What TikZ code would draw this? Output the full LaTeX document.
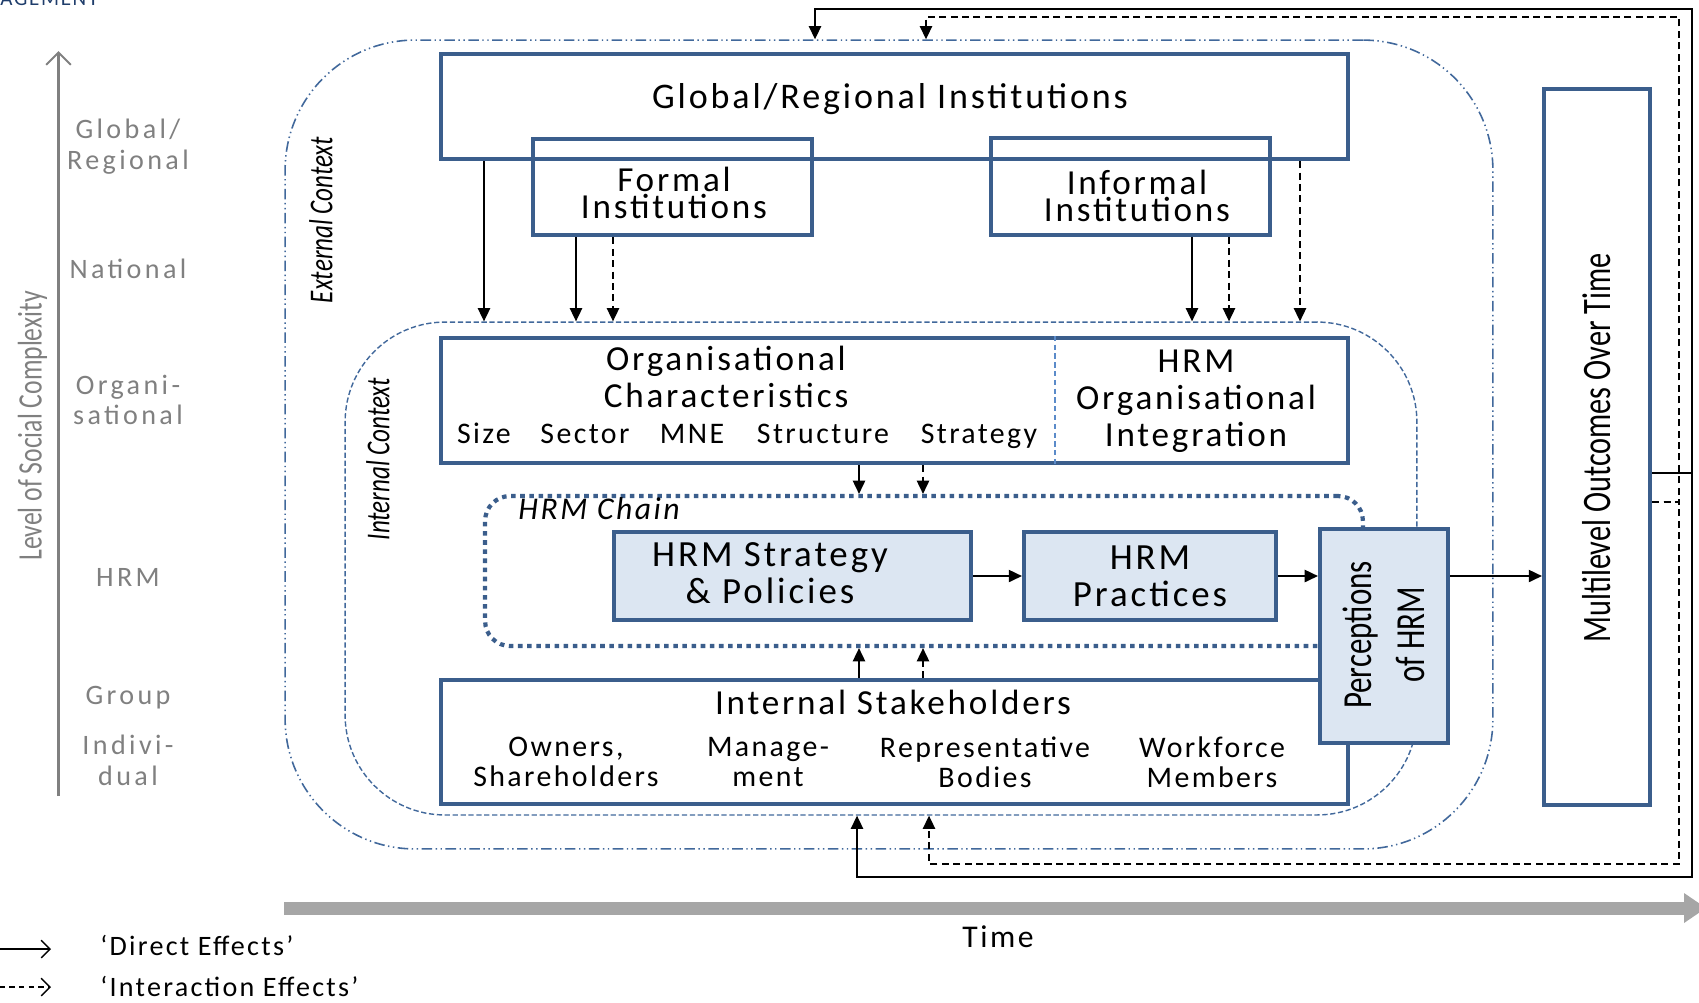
\documentclass[tikz,border=0pt]{standalone}
\usepackage{fontspec}
\setmainfont{Carlito}
\newfontfamily\widefont[LetterSpace=8]{Carlito}
\newfontfamily\levelfont[LetterSpace=12]{Carlito}
\newfontfamily\narrowfont[FakeStretch=0.75]{Carlito}
\usetikzlibrary{arrows.meta}
\definecolor{boxblue}{HTML}{3B5E8C}
\definecolor{fillblue}{HTML}{DCE6F2}
\definecolor{ctxblue}{HTML}{41689B}
\definecolor{divblue}{HTML}{5B8BC9}
\definecolor{levelgrey}{HTML}{808080}
\definecolor{timegrey}{HTML}{A6A6A6}
\definecolor{titleblue}{HTML}{1F3D6B}

\begin{document}
\begin{tikzpicture}[x=0.02cm,y=-0.02cm,
	box/.style={draw=boxblue,line width=2.4pt,inner sep=0pt},
	hrmbox/.style={box,fill=fillblue},
	ctx/.style={draw=ctxblue,inner sep=0pt},
	ctxlbl/.style={rotate=90,inner sep=0pt,font=\narrowfont\itshape\fontsize{19}{20}\selectfont},
	lbl/.style={align=center,inner sep=0pt,font=\widefont\fontsize{20}{21}\selectfont},
	tightlbl/.style={align=center,inner sep=0pt,font=\widefont\fontsize{20}{15.5}\selectfont},
	sublbl/.style={align=center,inner sep=0pt,font=\widefont\fontsize{17}{17}\selectfont},
	lvl/.style={align=center,inner sep=0pt,text=levelgrey,font=\levelfont\fontsize{16}{17.5}\selectfont},
	eff/.style={line width=0.8pt,-{Triangle[length=7.5pt,width=7pt]}},
	inter/.style={eff,dash pattern=on 4pt off 2.5pt},
	legarrow/.style={line width=0.8pt,-{Straight Barb[length=5pt,width=10pt]}}]
	\useasboundingbox (0,0) rectangle (1699,1002);
	\node[anchor=base west,inner sep=0pt,text=titleblue,font=\widefont\fontsize{12}{14}\selectfont] (hdr) at (0,5) {AGEMENT};

	\coordinate (axbot) at (58.5,796);
	\coordinate (axtop) at (58.5,51);
	\draw[levelgrey,line width=1.2pt,-{Straight Barb[length=7pt,width=14pt]}] (axbot) -- (axtop);
	\node[rotate=90,text=levelgrey,inner sep=0pt,font=\narrowfont\fontsize{19.5}{20}\selectfont] (axlbl) at (32.5,426) {Level of Social Complexity};
	\node[lvl] (lglob) at (128,147) {Global/\\Regional};
	\node[lvl,anchor=base] (lnat) at (128,278) {National};
	\node[lvl] (lorg) at (128,400) {Organi-\\sational};
	\node[lvl,anchor=base] (lhrm) at (128,586) {HRM};
	\node[lvl,anchor=base] (lgrp) at (128,704) {Group};
	\node[lvl] (lind) at (128,760) {Indivi-\\dual};

	\node[ctx,line width=0.9pt,dash pattern=on 6pt off 2pt on 0.8pt off 2pt on 0.8pt off 2pt,rounded corners=2.6cm,minimum width=24.16cm,minimum height=16.18cm] (extctx) at (889,444.5) {};
	\node[ctx,line width=0.8pt,dash pattern=on 3pt off 1.5pt,rounded corners=2cm,minimum width=21.44cm,minimum height=9.86cm] (intctx) at (881,568.5) {};
	\node[ctxlbl] (extlbl) at (321,220) {External Context};
	\node[ctxlbl] (intlbl) at (378,459) {Internal Context};

	\node[box,minimum width=18.14cm,minimum height=2.1cm] (glob) at (894.5,106.5) {};
	\node[box,minimum width=5.58cm,minimum height=1.93cm] (formal) at (672.5,187) {};
	\node[box,minimum width=5.58cm,minimum height=1.93cm] (informal) at (1130.5,186.5) {};
	\node[lbl,anchor=base,font=\widefont\fontsize{20.5}{21}\selectfont] (globtxt) at (890,108) {Global/Regional Institutions};
	\node[tightlbl] (formaltxt) at (674,193) {Formal\\Institutions};
	\node[tightlbl] (informaltxt) at (1137,196) {Informal\\Institutions};

	\node[box,minimum width=18.14cm,minimum height=2.5cm] (orgc) at (894.5,400.5) {};
	\coordinate (dv) at (1055,0);
	\draw[divblue,line width=1pt,dash pattern=on 3pt off 2pt] (orgc.north -| dv) -- (orgc.south -| dv);
	\node[lbl] (orgtxt) at (726,377) {Organisational\\Characteristics};
	\node[sublbl,anchor=base] (osize) at (484,443) {Size};
	\node[sublbl,anchor=base] (osector) at (585,443) {Sector};
	\node[sublbl,anchor=base] (omne) at (692,443) {MNE};
	\node[sublbl,anchor=base] (ostruct) at (823,443) {Structure};
	\node[sublbl,anchor=base] (ostrat) at (979,443) {Strategy};
	\node[lbl] (hrmorg) at (1196,401) {HRM\\Organisational\\Integration};

	\node[draw=boxblue,line width=2.4pt,dash pattern=on 2.6pt off 2.6pt,rounded corners=0.5cm,minimum width=17.56cm,minimum height=3cm,inner sep=0pt] (chain) at (924,571) {};
	\node[anchor=base west,inner sep=0pt,font=\widefont\itshape\fontsize{18}{20}\selectfont] (chainlbl) at (518,519) {HRM Chain};
	\node[hrmbox,minimum width=7.14cm,minimum height=1.76cm] (strat) at (792.5,576) {};
	\node[lbl,font=\widefont\fontsize{21}{21}\selectfont] (strattxt) at (770,573) {HRM Strategy\\\& Policies};
	\node[hrmbox,minimum width=5.04cm,minimum height=1.76cm,align=center,font=\widefont\fontsize{21}{21}\selectfont] (pract) at (1150,576) {HRM\\Practices};

	\node[box,minimum width=18.14cm,minimum height=2.48cm] (stake) at (894.5,742) {};
	\node[lbl,anchor=base] (staketxt) at (893,714) {Internal Stakeholders};
	\node[sublbl] (sown) at (566,762) {Owners,\\Shareholders};
	\node[sublbl] (smgmt) at (768,762) {Manage-\\ment};
	\node[sublbl] (srep) at (985,762) {Representative\\Bodies};
	\node[sublbl] (swork) at (1212,762) {Workforce\\Members};

	\node[hrmbox,minimum width=2.56cm,minimum height=4.28cm] (percep) at (1384,636) {};
	\node[rotate=90,align=center,inner sep=0pt,font=\narrowfont\fontsize{23.5}{30}\selectfont] (perceptxt) at (1384,635) {Perceptions\\of HRM};
	\node[box,minimum width=2.12cm,minimum height=14.32cm] (outc) at (1597,447) {};
	\node[rotate=90,inner sep=0pt,font=\narrowfont\fontsize{23}{24}\selectfont] (outctxt) at (1597,448) {Multilevel Outcomes Over Time};

	\coordinate (g1) at (484,0);
	\coordinate (g2) at (1300,0);
	\coordinate (f1) at (576,0);
	\coordinate (f2) at (613,0);
	\coordinate (i1) at (1192,0);
	\coordinate (i2) at (1229,0);
	\coordinate (c1) at (859,0);
	\coordinate (c2) at (923,0);
	\draw[eff] (glob.south -| g1) -- (intctx.north -| g1);
	\draw[inter] (glob.south -| g2) -- (intctx.north -| g2);
	\draw[eff] (formal.south -| f1) -- (intctx.north -| f1);
	\draw[inter] (formal.south -| f2) -- (intctx.north -| f2);
	\draw[eff] (informal.south -| i1) -- (intctx.north -| i1);
	\draw[inter] (informal.south -| i2) -- (intctx.north -| i2);
	\draw[eff] (orgc.south -| c1) -- (chain.north -| c1);
	\draw[inter] (orgc.south -| c2) -- (chain.north -| c2);
	\draw[eff] (stake.north -| c1) -- (chain.south -| c1);
	\draw[inter] (stake.north -| c2) -- (chain.south -| c2);

	\draw[eff] (strat) -- (pract);
	\draw[eff] (pract) -- (pract -| percep.west);
	\draw[eff] (percep.east |- pract) -- (pract -| outc.west);

	\coordinate (sR) at (1692,473);
	\coordinate (sT) at (815,9);
	\coordinate (sB) at (857,877);
	\coordinate (dR) at (1679,502);
	\coordinate (dT) at (926,17);
	\coordinate (dB) at (929,864);
	\draw[eff] (outc.east |- sR) -- (sR) |- (sT) -- (sT |- extctx.north);
	\draw[eff] (outc.east |- sR) -- (sR) |- (sB) -- (sB |- intctx.south);
	\draw[inter] (outc.east |- dR) -- (dR) |- (dT) -- (dT |- extctx.north);
	\draw[inter] (outc.east |- dR) -- (dR) |- (dB) -- (dB |- intctx.south);

	\fill[timegrey] (284,901.5) rectangle (1686,914.5);
	\fill[timegrey] (1684,893) -- (1706,908) -- (1684,923) -- cycle;
	\node[anchor=base,inner sep=0pt,font=\widefont\fontsize{18}{20}\selectfont] (timelbl) at (998,947) {Time};

	\coordinate (dirs) at (-10,949);
	\coordinate (dire) at (51,949);
	\coordinate (ints) at (-10,987);
	\coordinate (inte) at (51,987);
	\draw[legarrow] (dirs) -- (dire);
	\draw[legarrow,dash pattern=on 3pt off 2.5pt] (ints) -- (inte);
	\node[anchor=base west,inner sep=0pt,font=\widefont\fontsize{16}{18}\selectfont] (dirlbl) at (100,955) {‘Direct Effects’};
	\node[anchor=base west,inner sep=0pt,font=\widefont\fontsize{16}{18}\selectfont] (intlbl2) at (100,996) {‘Interaction Effects’};
\end{tikzpicture}
\end{document}
